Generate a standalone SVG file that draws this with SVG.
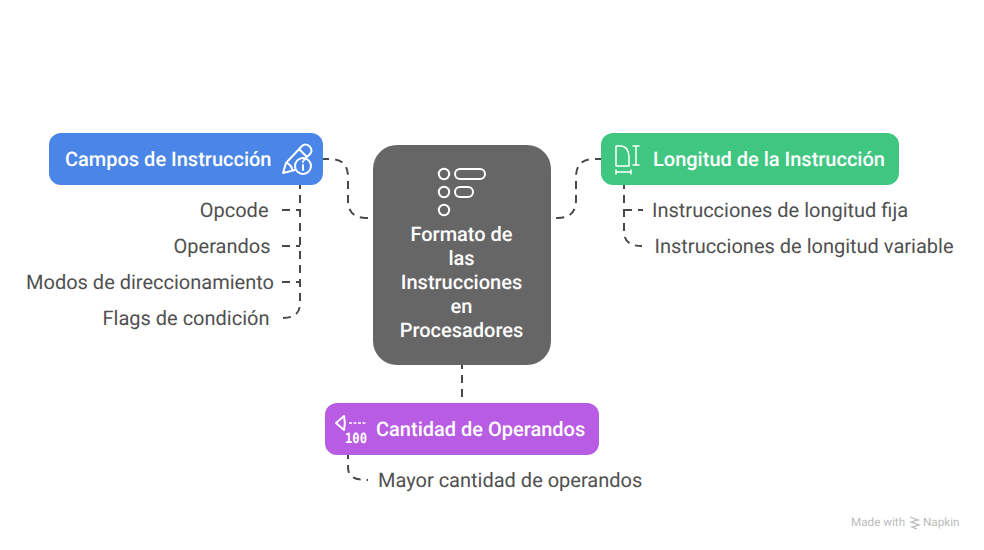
<svg xmlns="http://www.w3.org/2000/svg" width="984" height="550" viewBox="0 0 984 550">
<style>
text{font-family:Roboto,"Liberation Sans",sans-serif;text-rendering:geometricPrecision}
.t{font-size:20px;fill:#fff;font-weight:500}
.c{font-size:20px;fill:#fff;font-weight:500;text-anchor:middle}
.l{font-size:20px;fill:#505050}
.e{fill:none;stroke:#484848;stroke-width:2;stroke-dasharray:8 6}
.i{fill:none;stroke:#fff;stroke-width:2;stroke-linecap:round;stroke-linejoin:round}
.i1{fill:none;stroke:#fff;stroke-width:1.5;stroke-linecap:round;stroke-linejoin:round}
</style>
<rect width="984" height="550" fill="#fff"/>
<g id="connectors">
<path class="e" d="M321 159H330C342 159 348 165 348 177V200C348 212 354 218 366 218H373"/>
<path class="e" d="M603 159H594C582 159 576 165 576 177V200C576 212 570 218 558 218H551"/>
<path class="e" d="M462 361V397"/>
<path class="e" d="M300 181V303C300 313 295 318 282 318"/>
<path class="e" d="M282 210H300"/>
<path class="e" d="M282 246H300"/>
<path class="e" d="M282 282H300"/>
<path class="e" d="M624 181V231C624 241 629 246 642 246"/>
<path class="e" d="M624 210H643"/>
<path class="e" d="M348 451V467C348 476 353 480 368 480"/>
</g>
<g id="node-center">
<rect x="373" y="145" width="178" height="220" rx="24" fill="#666"/>
<circle class="i" cx="444" cy="174" r="5.2"/>
<circle class="i" cx="444" cy="192" r="5.2"/>
<circle class="i" cx="444" cy="210" r="5.2"/>
<rect class="i" x="455" y="169" width="30" height="10" rx="5"/>
<rect class="i" x="455" y="187" width="18" height="10" rx="5"/>
<text class="c" x="461.500" y="241">Formato de</text>
<text class="c" x="461.500" y="265">las</text>
<text class="c" x="461.500" y="289">Instrucciones</text>
<text class="c" x="461.500" y="313">en</text>
<text class="c" x="461.500" y="337">Procesadores</text>
</g>
<g id="node-campos">
<rect x="49" y="133" width="274" height="52" rx="12" fill="#4a86e8"/>
<text class="t" x="65" y="166">Campos de Instrucción</text>
<path class="i" d="M283 173L286 163L302 146C304 144 308 144 310 147C312 149 312 152 310 154L304 160M283 173L295 170M286 163C289 163 292 167 292 169M299 149L307 157"/>
<circle class="i" cx="303" cy="166" r="8"/>
<path class="i" d="M303 165V170M303 161.500V162"/>
</g>
<g id="node-longitud">
<rect x="601" y="133" width="298" height="52" rx="12" fill="#3fc782"/>
<text class="t" x="653" y="166">Longitud de la Instrucción</text>
<path class="i1" d="M616 146H621C626 146 629 151 629 157V166H616ZM633 146H639M636 146V165M633 165H639M616 172H631M616 170V174M631 170V174"/>
</g>
<g id="node-cantidad">
<rect x="325" y="403" width="274" height="52" rx="12" fill="#b85ce4"/>
<text class="t" x="376" y="436">Cantidad de Operandos</text>
<path class="i" d="M344 416L336 423L344 430C345 426 345 420 344 416Z"/>
<path d="M349 423H366" fill="none" stroke="#fff" stroke-width="1.500" stroke-dasharray="3 1.500"/>
<text x="345" y="443" font-size="14" font-weight="700" fill="#fff" textLength="22" lengthAdjust="spacingAndGlyphs" style="font-family:'DejaVu Sans Mono',monospace">100</text>
</g>
<g id="labels">
<text class="l" x="268.500" y="217" text-anchor="end">Opcode</text>
<text class="l" x="270.500" y="253" text-anchor="end">Operandos</text>
<text class="l" x="274" y="289" text-anchor="end">Modos de direccionamiento</text>
<text class="l" x="269.500" y="325" text-anchor="end">Flags de condición</text>
<text class="l" x="652" y="217">Instrucciones de longitud fija</text>
<text class="l" x="654.500" y="253">Instrucciones de longitud variable</text>
<text class="l" x="378" y="487">Mayor cantidad de operandos</text>
</g>
<g id="watermark">
<text x="851" y="526" font-size="11.700" fill="#bcbcbc">Made with</text>
<path d="M910 517L918 520L911 522L919 525L912 527L917 529" fill="none" stroke="#bcbcbc" stroke-width="1.300"/>
<text x="923" y="526" font-size="11.700" fill="#bcbcbc">Napkin</text>
</g>
</svg>
